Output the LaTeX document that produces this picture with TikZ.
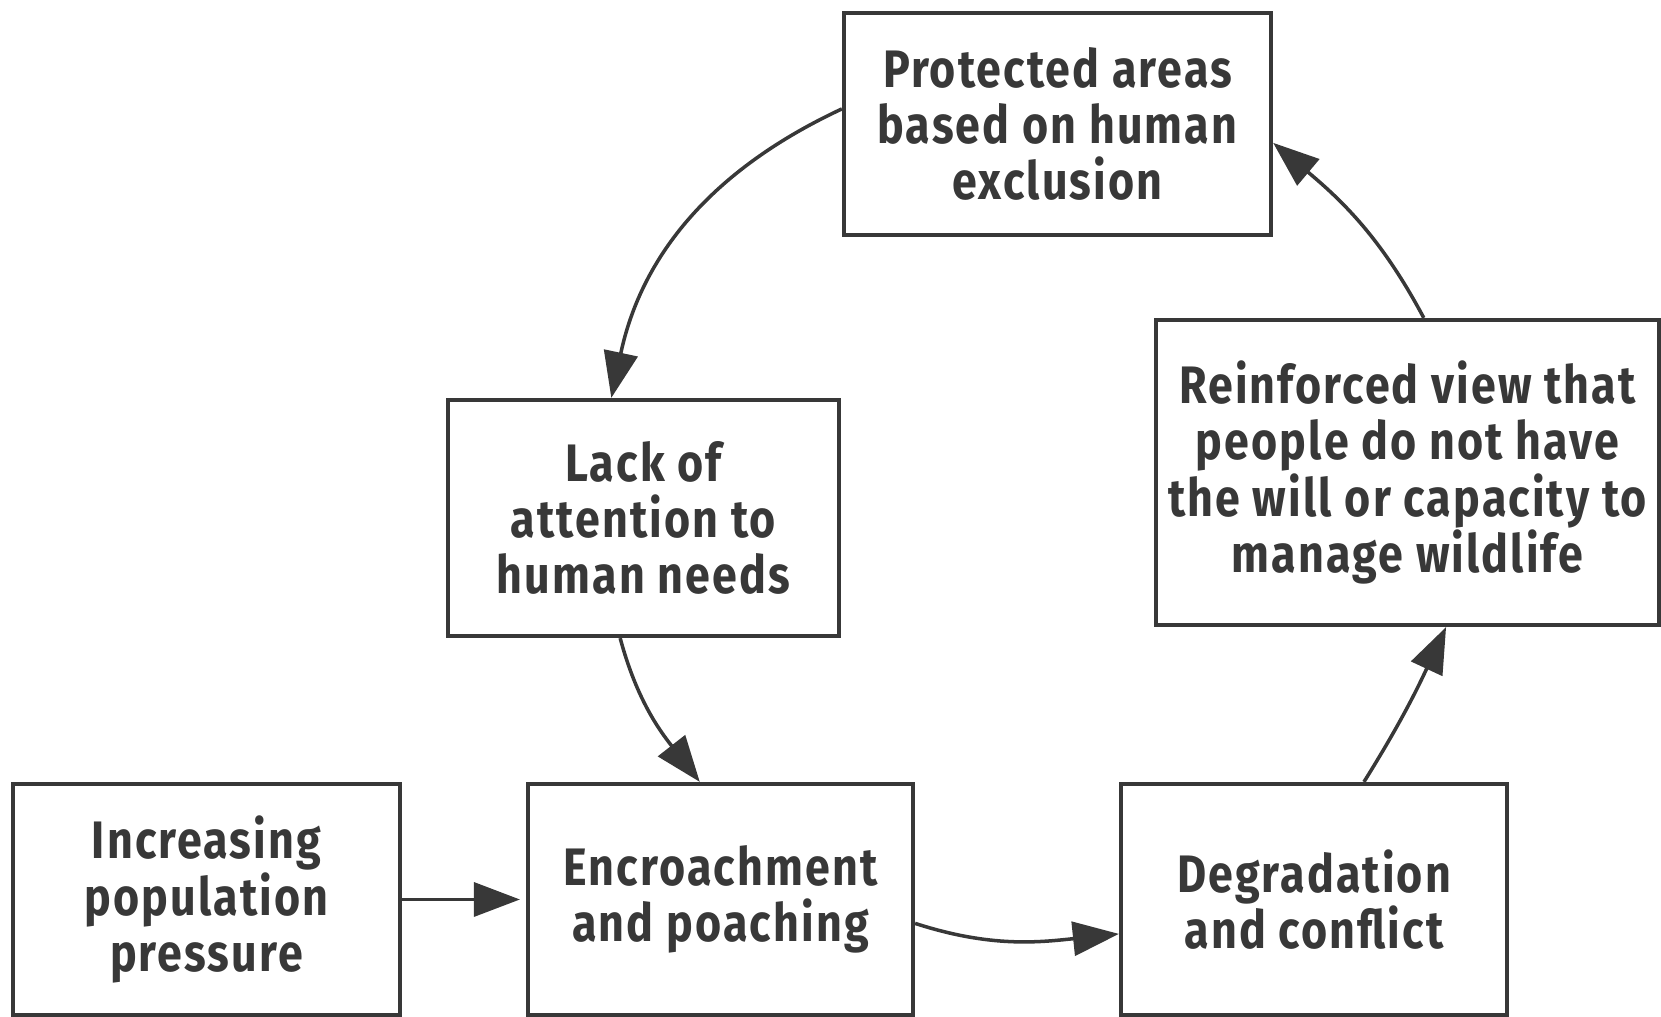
\documentclass[tikz,border=0pt]{standalone}
\usepackage{fontspec}
\newfontfamily\boxfont{Fira Sans}[FakeStretch=0.85, LetterSpace=4]
\usetikzlibrary{arrows.meta}
\definecolor{ink}{HTML}{383838}
\begin{document}
\begin{tikzpicture}[
    stagebox/.style = {draw=ink, line width=1.2pt, rectangle, inner sep=0pt, align=center,
                       text=ink, font=\boxfont\bfseries\fontsize{15}{16}\selectfont},
    flow/.style = {draw=ink, line width=1pt, -{Triangle[length=4.6mm, width=3.4mm]}}
  ]
  \useasboundingbox (0,0) rectangle (16.61,10.17);
  \node[stagebox, minimum width=4.27cm, minimum height=2.22cm] (prot) at (10.575,8.93) {Protected areas\\based on human\\exclusion};
  \node[stagebox, minimum width=3.91cm, minimum height=2.36cm] (lack) at (6.435,4.99) {Lack of\\attention to\\human needs};
  \node[stagebox, minimum width=5.03cm, minimum height=3.05cm] (rein) at (14.075,5.445) {Reinforced view that\\people do not have\\the will or capacity to\\manage wildlife};
  \node[stagebox, minimum width=3.87cm, minimum height=2.31cm] (inc) at (2.065,1.175) {Increasing\\population\\pressure};
  \node[stagebox, minimum width=3.85cm, minimum height=2.31cm] (enc) at (7.205,1.175) {Encroachment\\and poaching};
  \node[stagebox, minimum width=3.86cm, minimum height=2.31cm] (deg) at (13.14,1.175) {Degradation\\and conflict};

  \draw[flow] (prot.176) to[out=205, in=78] (lack.105);
  \draw[flow] (lack.259) to[out=285, in=128] (enc.100);
  \draw[flow, shorten >=0.6mm] (inc.east) -- (enc.west);
  \draw[flow] (enc.-7) to[out=-18, in=186] (deg.190);
  \draw[flow] (deg.67) to[out=58, in=245] (rein.-76);
  \draw[flow] (rein.84) to[out=118, in=-40] (prot.-5);
\end{tikzpicture}
\end{document}
